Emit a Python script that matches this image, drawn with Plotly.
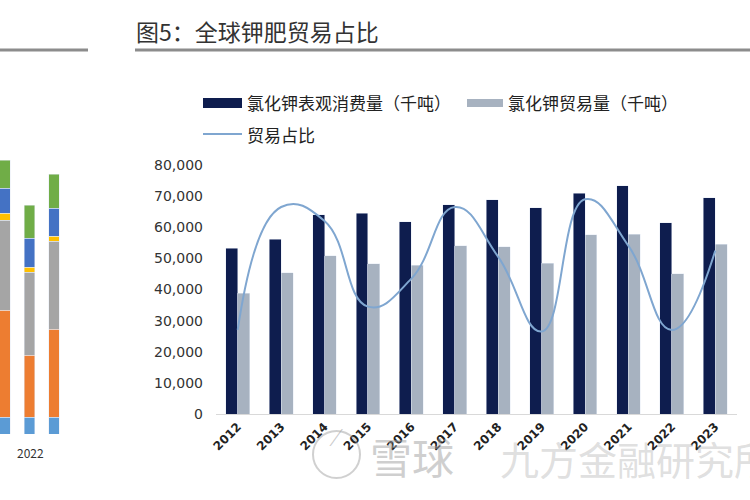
import plotly.graph_objects as go

# ---- data ----
years = ["2012", "2013", "2014", "2015", "2016", "2017", "2018", "2019", "2020", "2021", "2022", "2023"]
consumption = [53300, 56200, 64000, 64500, 61800, 67200, 68800, 66300, 70900, 73400, 61500, 69400]
trade = [38800, 45400, 50800, 48200, 47800, 54100, 53800, 48400, 57600, 57800, 45000, 54600]
trade_ratio = [0.724, 0.803, 0.794, 0.739, 0.757, 0.803, 0.771, 0.723, 0.808, 0.778, 0.724, 0.775]

# cropped neighbouring chart (stacked bars), arbitrary units
left_x = [0, 1, 2]
left_seg1 = [17, 17, 17]
left_seg2 = [107, 62, 88]
left_seg3 = [90, 83, 88]
left_seg4 = [7, 5, 5]
left_seg5 = [25, 29, 28]
left_seg6 = [28, 33, 34]
left_colors = ["#5b9bd5", "#ed7d31", "#a5a5a5", "#ffc000", "#4472c4", "#70ad47"]

W, H = 750, 500
def px(x):
    return x / W
def py(y):
    return 1 - y / H

fig = go.Figure()

fig.add_trace(go.Bar(x=years, y=consumption, name="氯化钾表观消费量（千吨）",
                     marker_color="#0e1d4e", xaxis="x", yaxis="y", offsetgroup="a"))
fig.add_trace(go.Bar(x=years, y=trade, name="氯化钾贸易量（千吨）",
                     marker_color="#a7b2c0", xaxis="x", yaxis="y", offsetgroup="b"))
fig.add_trace(go.Scatter(x=years, y=trade_ratio, name="贸易占比", mode="lines",
                         line=dict(color="#7fa6d0", width=2, shape="spline", smoothing=1.3),
                         xaxis="x", yaxis="y2"))

for seg, col in zip([left_seg1, left_seg2, left_seg3, left_seg4, left_seg5, left_seg6], left_colors):
    fig.add_trace(go.Bar(x=left_x, y=seg, marker_color=col, width=0.42,
                         xaxis="x3", yaxis="y3", showlegend=False))

fig.update_layout(
    width=W, height=H,
    margin=dict(l=0, r=0, t=0, b=0, autoexpand=False),
    paper_bgcolor="white", plot_bgcolor="white",
    showlegend=False,
    barmode="stack",
    bargap=0.45, bargroupgap=0,
    font=dict(family="Noto Sans CJK SC", color="#222"),
    xaxis=dict(domain=[px(216), px(737)], type="category",
               tickangle=-45, tickfont=dict(size=12, color="#222", family="DejaVu Sans", weight="bold"),
               showline=True, linecolor="#d9d9d9", ticks="", showgrid=False,
               anchor="y", automargin=False),
    yaxis=dict(domain=[py(414), py(165)], range=[0, 80000], dtick=10000,
               tickformat=",", ticklabelstandoff=12,
               tickfont=dict(size=14, color="#333", family="DejaVu Sans"),
               showgrid=False, zeroline=False, showline=False, ticks="",
               anchor="x", automargin=False),
    yaxis2=dict(overlaying="y", side="right", range=[0.67, 0.83],
                visible=False, showgrid=False),
    xaxis3=dict(domain=[0, px(75)], range=[-0.204, 2.857], visible=False, anchor="y3"),
    yaxis3=dict(domain=[py(434), py(154)], range=[0, 280], visible=False, anchor="x3"),
)

shapes = [
    dict(type="line", xref="paper", yref="paper", x0=px(135), x1=1, y0=py(50), y1=py(50),
         line=dict(color="#8c8c8c", width=3)),
    dict(type="line", xref="paper", yref="paper", x0=0, x1=px(88), y0=py(50), y1=py(50),
         line=dict(color="#8c8c8c", width=3)),
    # legend swatches
    dict(type="rect", xref="paper", yref="paper", x0=px(203), x1=px(242), y0=py(108), y1=py(98),
         fillcolor="#0e1d4e", line=dict(width=0)),
    dict(type="rect", xref="paper", yref="paper", x0=px(467), x1=px(503), y0=py(107), y1=py(99),
         fillcolor="#a7b2c0", line=dict(width=0)),
    dict(type="line", xref="paper", yref="paper", x0=px(203), x1=px(242), y0=py(134), y1=py(134),
         line=dict(color="#7fa6d0", width=2)),
    # watermark logo
    dict(type="circle", xref="paper", yref="paper", x0=px(313), x1=px(360), y0=py(478), y1=py(431),
         line=dict(color="rgba(150,150,150,0.45)", width=2)),
]
fig.update_layout(shapes=shapes)

annotations = [
    dict(text="图5：全球钾肥贸易占比", x=px(134), y=py(31), xref="paper", yref="paper",
         xanchor="left", yanchor="middle", showarrow=False,
         font=dict(size=23, color="#333", family="Noto Sans CJK SC")),
    dict(text="氯化钾表观消费量（千吨）", x=px(245), y=py(103), xref="paper", yref="paper",
         xanchor="left", yanchor="middle", showarrow=False, font=dict(size=17, color="#222")),
    dict(text="氯化钾贸易量（千吨）", x=px(506), y=py(103), xref="paper", yref="paper",
         xanchor="left", yanchor="middle", showarrow=False, font=dict(size=17, color="#222")),
    dict(text="贸易占比", x=px(245), y=py(134), xref="paper", yref="paper",
         xanchor="left", yanchor="middle", showarrow=False, font=dict(size=17, color="#222")),
    dict(text="2022", x=px(30), y=py(452), xref="paper", yref="paper",
         xanchor="center", yanchor="middle", showarrow=False, font=dict(size=12, color="#333")),
    # watermark
    dict(text="⁄", x=px(336), y=py(455), xref="paper", yref="paper", showarrow=False,
         font=dict(size=26, color="rgba(150,150,150,0.5)")),
    dict(text="雪球", x=px(368), y=py(455), xref="paper", yref="paper",
         xanchor="left", yanchor="middle", showarrow=False,
         font=dict(size=42, color="rgba(160,160,160,0.5)")),
    dict(text="九方金融研究所", x=px(498), y=py(458), xref="paper", yref="paper",
         xanchor="left", yanchor="middle", showarrow=False,
         font=dict(size=39, color="rgba(185,185,185,0.45)")),
]
fig.update_layout(annotations=annotations)

fig.write_html("out.html", config={"displayModeBar": False},
               post_script="document.body.style.margin='0';")
